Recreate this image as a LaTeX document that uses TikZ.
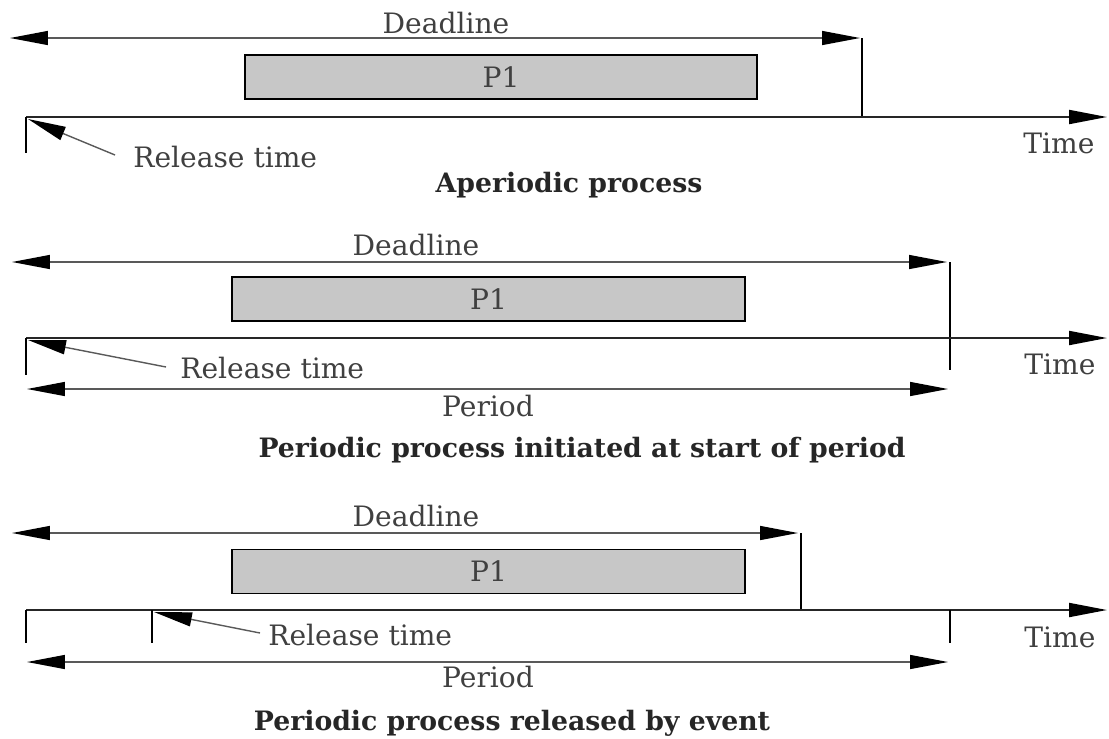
\documentclass[tikz,border=0pt]{standalone}
\usepackage{fontspec}
\setmainfont{DejaVu Serif}
\usetikzlibrary{arrows.meta}

\begin{document}
\begin{tikzpicture}[
        x=0.02cm, y=-0.02cm,
        tip/.style={-{Triangle[length=0.76cm,width=0.28cm,black]}},
        twotip/.style={{Triangle[length=0.76cm,width=0.28cm,black]}-{Triangle[length=0.76cm,width=0.28cm,black]}},
        span/.style={line width=0.8pt, black!65},
        axis/.style={line width=1.1pt, black!85},
        tickline/.style={line width=1.4pt},
        job/.style={draw, line width=1.1pt, fill=black!22, inner sep=0pt,
            minimum height=0.88cm, font=\fontsize{16}{18}\selectfont, text=black!75},
        lbl/.style={font=\fontsize{16}{18}\selectfont, text=black!75, inner sep=0pt},
        caption/.style={font=\bfseries\fontsize{15.2}{18}\selectfont, text=black!85, inner sep=0pt}
    ]
    \useasboundingbox (0,0) rectangle (1109,738);

    % Aperiodic process
    \coordinate (aL) at (10,38);
    \coordinate (aR) at (860,38);
    \coordinate (aTop) at (862,38);
    \coordinate (aDl) at (862,117);
    \coordinate (a0) at (26,117);
    \coordinate (aEnd) at (1107,117);
    \coordinate (aTk) at (26,153);
    \coordinate (aRt) at (115,155);
    \coordinate (aRh) at (28,119);

    \node[lbl] (aDead) at (446,23) {Deadline};
    \node[job, minimum width=10.24cm] (aJob) at (501,77) {P1};
    \node[lbl, anchor=west] (aRel) at (133,157) {Release time};
    \node[lbl] (aTime) at (1059,143) {Time};
    \node[caption] (aCap) at (569,185) {Aperiodic process};

    \draw[span, twotip] (aL) -- (aR);
    \draw[tickline] (aTop) -- (aDl);
    \draw[axis, tip] (a0) -- (aEnd);
    \draw[tickline] (a0) -- (aTk);
    \draw[span, tip] (aRt) -- (aRh);

    % Periodic process initiated at start of period
    \coordinate (bL) at (12,262);
    \coordinate (bR) at (947,262);
    \coordinate (bTop) at (950,262);
    \coordinate (bBot) at (950,370);
    \coordinate (b0) at (26,338);
    \coordinate (bEnd) at (1107,338);
    \coordinate (bTk) at (26,375);
    \coordinate (bRt) at (166,367);
    \coordinate (bRh) at (28,340);
    \coordinate (bPl) at (27,389);
    \coordinate (bPr) at (948,389);

    \node[lbl] (bDead) at (416,245) {Deadline};
    \node[job, minimum width=10.26cm] (bJob) at (488.5,299) {P1};
    \node[lbl, anchor=west] (bRel) at (180,368) {Release time};
    \node[lbl] (bTime) at (1060,364) {Time};
    \node[lbl] (bPer) at (488,406) {Period};
    \node[caption] (bCap) at (582,450) {Periodic process initiated at start of period};

    \draw[span, twotip] (bL) -- (bR);
    \draw[tickline] (bTop) -- (bBot);
    \draw[axis, tip] (b0) -- (bEnd);
    \draw[tickline] (b0) -- (bTk);
    \draw[span, tip] (bRt) -- (bRh);
    \draw[span, twotip] (bPl) -- (bPr);

    % Periodic process released by event
    \coordinate (cL) at (12,533);
    \coordinate (cR) at (798,533);
    \coordinate (cTop) at (801,533);
    \coordinate (cDl) at (801,610);
    \coordinate (c0) at (26,610);
    \coordinate (cEnd) at (1107,610);
    \coordinate (cPl) at (27,662);
    \coordinate (cPr) at (948,662);
    \coordinate (cRt) at (260,633);
    \coordinate (cRh) at (154,612);

    \node[lbl] (cDead) at (416,516) {Deadline};
    \node[job, minimum width=10.26cm] (cJob) at (488.5,571.5) {P1};
    \node[lbl, anchor=west] (cRel) at (268,635) {Release time};
    \node[lbl] (cTime) at (1060,637) {Time};
    \node[lbl] (cPer) at (488,677) {Period};
    \node[caption] (cCap) at (512,723) {Periodic process released by event};

    \draw[span, twotip] (cL) -- (cR);
    \draw[tickline] (cTop) -- (cDl);
    \draw[axis, tip] (c0) -- (cEnd);
    \foreach \x in {26,152,950}
        \draw[tickline] (\x,610) -- (\x,643);
    \draw[span, tip] (cRt) -- (cRh);
    \draw[span, twotip] (cPl) -- (cPr);
\end{tikzpicture}
\end{document}
